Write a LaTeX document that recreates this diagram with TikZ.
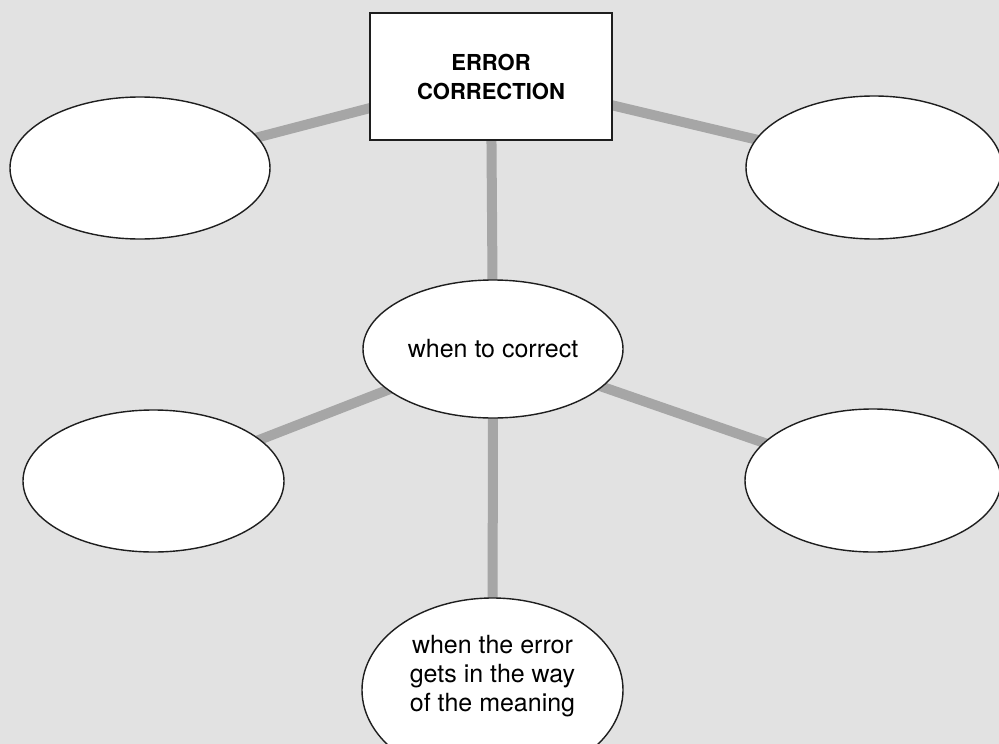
\documentclass[tikz,border=0pt]{standalone}
\usepackage{fontspec}
\setmainfont{TeX Gyre Heros}
\usetikzlibrary{shapes.geometric,backgrounds}
\definecolor{paper}{RGB}{226,226,226}
\definecolor{linkgray}{RGB}{166,166,166}
\definecolor{ink}{RGB}{30,30,30}
\begin{document}
\begin{tikzpicture}[x=1pt,y=-1pt,
  bubble/.style={ellipse,draw=ink,line width=1.4pt,fill=white,inner sep=0pt},
  titlebox/.style={rectangle,draw=ink,line width=1.8pt,fill=white,inner sep=0pt,
    minimum width=242pt,minimum height=127pt,align=center,
    font=\fontsize{22}{29}\selectfont\bfseries},
  bubtext/.style={font=\fontsize{25}{29}\selectfont,align=center},
  link/.style={draw=linkgray,line width=10pt}]
\useasboundingbox (0,0) rectangle (999,744);
\node[titlebox] (top) at (491,76.5) {ERROR\\CORRECTION};
\node[bubble,minimum width=260pt,minimum height=142pt] (lt) at (140,168) {};
\node[bubble,minimum width=256pt,minimum height=143pt] (rt) at (874,167.5) {};
\node[bubble,minimum width=260pt,minimum height=138pt] (mid) at (493,349) {};
\node[bubtext] (midtext) at (mid.center) {when to correct};
\node[bubble,minimum width=261pt,minimum height=142pt] (lb) at (153.5,481) {};
\node[bubble,minimum width=256pt,minimum height=143pt] (rb) at (873,480.5) {};
\node[bubble,minimum width=261pt,minimum height=184pt] (bot) at (492.5,690) {};
\node[bubtext] (bottext) at (492.5,676) {when the error\\gets in the way\\of the meaning};
\begin{scope}[on background layer]
  \fill[paper] (0,0) rectangle (999,744);
  \draw[link] (top.center) -- (lt.center);
  \draw[link] (top.center) -- (rt.center);
  \draw[link] (top.center) -- (mid.center);
  \draw[link] (mid.center) -- (lb.center);
  \draw[link] (mid.center) -- (rb.center);
  \draw[link] (mid.center) -- (bot.center);
\end{scope}
\end{tikzpicture}
\end{document}
